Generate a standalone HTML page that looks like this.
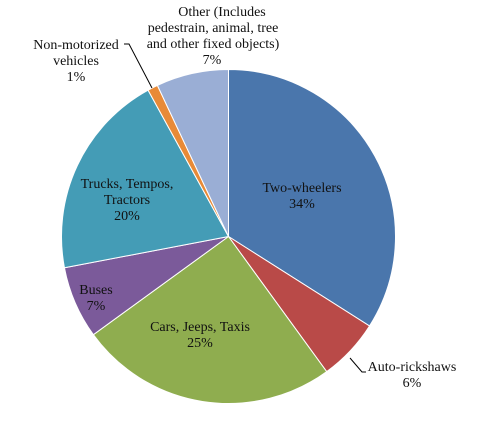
<!DOCTYPE html>
<html><head><meta charset="utf-8"><style>
body{margin:0;background:#fff;}
svg text{font-family:"Liberation Serif",serif;font-size:14px;fill:#111;}
</style></head><body>
<svg id="chart" width="479" height="427" viewBox="0 0 479 427">
<g id="slices"></g>
<g id="labels">
<text x="302" y="192" text-anchor="middle"><tspan x="302">Two-wheelers</tspan><tspan x="302" dy="16">34%</tspan></text>
<text x="200" y="331" text-anchor="middle"><tspan x="200">Cars, Jeeps, Taxis</tspan><tspan x="200" dy="16">25%</tspan></text>
<text x="96" y="294" text-anchor="middle"><tspan x="96">Buses</tspan><tspan x="96" dy="16">7%</tspan></text>
<text x="127" y="188" text-anchor="middle"><tspan x="127">Trucks, Tempos,</tspan><tspan x="127" dy="16">Tractors</tspan><tspan x="127" dy="16">20%</tspan></text>
<text x="76" y="49" text-anchor="middle"><tspan x="76">Non-motorized</tspan><tspan x="76" dy="16">vehicles</tspan><tspan x="76" dy="16">1%</tspan></text>
<text x="213" y="16" text-anchor="middle"><tspan x="222">Other (Includes</tspan><tspan x="213" dy="16">pedestrain, animal, tree</tspan><tspan x="213" dy="16">and other fixed objects)</tspan><tspan x="212" dy="16">7%</tspan></text>
<text x="412" y="371" text-anchor="middle"><tspan x="412">Auto-rickshaws</tspan><tspan x="412" dy="16">6%</tspan></text>
<polyline points="350,358 362,372 366,372" fill="none" stroke="#000" stroke-width="1"/>
<polyline points="124,44 129,44 152,88" fill="none" stroke="#000" stroke-width="1"/>
</g>
</svg>
<script>
const categories=["Two-wheelers","Auto-rickshaws","Cars, Jeeps, Taxis","Buses","Trucks, Tempos, Tractors","Non-motorized vehicles","Other"];
const values=[34,6,25,7,20,1,7];
const colors=["#4a76ac","#b94a48","#8fad4f","#7b5a9a","#449cb6","#e88a37","#9aaed5"];
const cx=228.5,cy=236.5,r=167;
const g=document.getElementById('slices');
const total=values.reduce((a,b)=>a+b,0);
let a0=0;
values.forEach((v,i)=>{
  const a1=a0+v/total*2*Math.PI;
  const x0=cx+r*Math.sin(a0),y0=cy-r*Math.cos(a0);
  const x1=cx+r*Math.sin(a1),y1=cy-r*Math.cos(a1);
  const large=(a1-a0)>Math.PI?1:0;
  const p=document.createElementNS('http://www.w3.org/2000/svg','path');
  p.setAttribute('d',`M${cx},${cy} L${x0},${y0} A${r},${r} 0 ${large} 1 ${x1},${y1} Z`);
  p.setAttribute('fill',colors[i]);
  p.setAttribute('stroke','#fff');
  p.setAttribute('stroke-width','1');
  
  
  g.appendChild(p);
  a0=a1;
});
</script>
</body></html>
